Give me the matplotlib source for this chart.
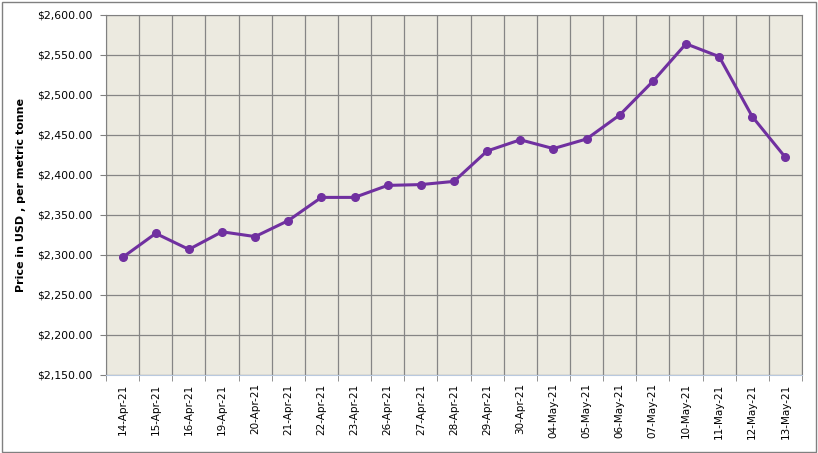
import matplotlib.pyplot as plt
from matplotlib.ticker import FuncFormatter, MultipleLocator, FixedLocator
import numpy as np

# Data
dates = ["14-Apr-21", "15-Apr-21", "16-Apr-21", "19-Apr-21", "20-Apr-21",
         "21-Apr-21", "22-Apr-21", "23-Apr-21", "26-Apr-21", "27-Apr-21",
         "28-Apr-21", "29-Apr-21", "30-Apr-21", "04-May-21", "05-May-21",
         "06-May-21", "07-May-21", "10-May-21", "11-May-21", "12-May-21",
         "13-May-21"]
prices = [2297, 2327, 2307, 2329, 2323, 2343, 2372, 2372, 2387, 2388,
          2392, 2430, 2444, 2433, 2445, 2475, 2517, 2564, 2548, 2473, 2422]

fig = plt.figure(figsize=(8.18, 4.53), dpi=100)
ax = fig.add_axes([0.1296, 0.1722, 0.8508, 0.7947])

x = np.arange(len(dates))
ax.plot(x, prices, color="#7030A0", linewidth=2.2, marker="o", markersize=5.5, zorder=3)

ax.set_facecolor("#ECEAE0")
ax.set_xlim(-0.5, len(dates) - 0.5)
ax.set_ylim(2150, 2600)

ax.yaxis.set_major_locator(MultipleLocator(50))
ax.yaxis.set_major_formatter(FuncFormatter(lambda v, p: f"${v:,.2f}"))
ax.grid(axis="y", color="#858585", linewidth=0.9)

ax.set_xticks(x)
ax.set_xticklabels(dates, rotation=90, fontsize=7.5)
ax.xaxis.set_minor_locator(FixedLocator(np.arange(-0.5, len(dates), 1)))
ax.grid(axis="x", which="minor", color="#858585", linewidth=0.9)
ax.tick_params(axis="x", which="major", length=0, pad=6)
ax.tick_params(axis="x", which="minor", length=4, color="#808080")
ax.tick_params(axis="y", labelsize=7.8, length=4, pad=5.5, color="#808080")
ax.set_axisbelow(True)

for s in ax.spines.values():
    s.set_color("#808080")
ax.spines["bottom"].set_color("#B9C9DF")

ax.set_ylabel("Price in USD , per metric tonne", fontsize=8, fontweight="bold", labelpad=8)

# Outer chart border
fig.patches.append(plt.Rectangle((0.002, 0.003), 0.995, 0.993, transform=fig.transFigure,
                                 fill=False, edgecolor="#808080", linewidth=1))

fig.savefig("out.png", dpi=100)
